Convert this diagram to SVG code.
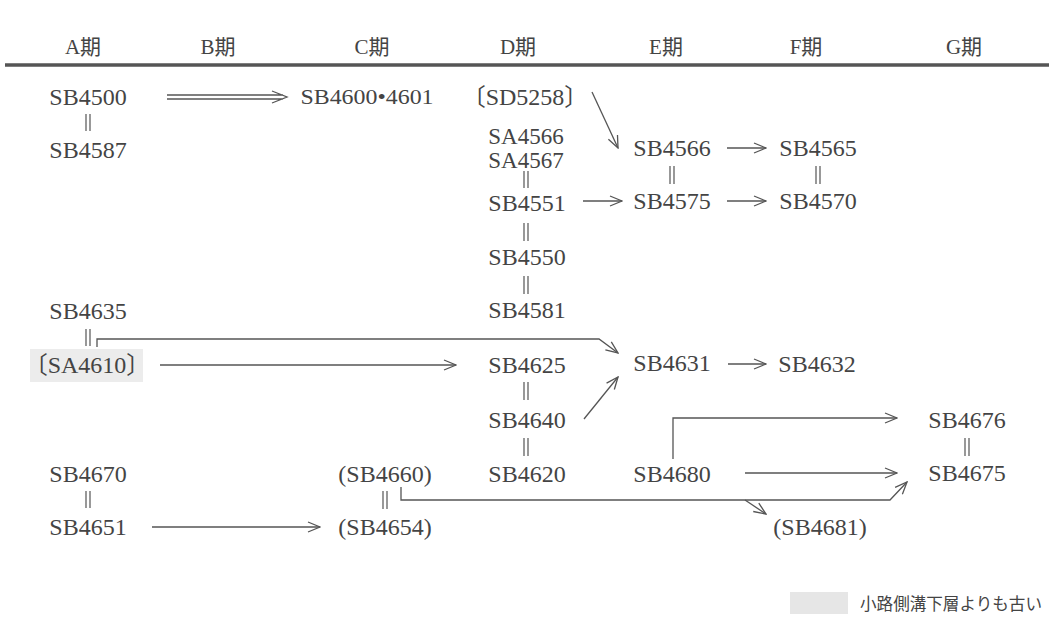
<svg xmlns="http://www.w3.org/2000/svg" width="1049" height="630" viewBox="0 0 1049 630">
<style>
.h{font-family:"Liberation Serif","Noto Sans CJK JP",serif;font-size:21px;fill:#444;text-anchor:middle}
.n{font-family:"Liberation Serif","Noto Sans CJK JP",serif;font-size:24px;fill:#444;text-anchor:middle}
.c{stroke:#555;stroke-width:1.3;fill:none}
.eq{stroke:#555;stroke-width:1.2;fill:none}
.lg{font-family:"Noto Sans CJK JP",sans-serif;font-size:17px;fill:#444}
</style>
<defs>
<marker id="ah" markerWidth="14" markerHeight="12" refX="13" refY="6" orient="auto" markerUnits="userSpaceOnUse">
<path d="M1,1 L13,6 L1,11" fill="none" stroke="#555" stroke-width="1.3"/>
</marker>
</defs>
<rect width="1049" height="630" fill="#fff"/>
<g id="header">
<text class="h" x="83" y="54">A期</text>
<text class="h" x="218" y="54">B期</text>
<text class="h" x="372" y="54">C期</text>
<text class="h" x="518" y="54">D期</text>
<text class="h" x="666" y="54">E期</text>
<text class="h" x="806" y="54">F期</text>
<text class="h" x="964" y="54">G期</text>
<line x1="5" y1="65" x2="1049" y2="65" stroke="#555" stroke-width="3.5"/>
</g>
<g id="n-SB4500"><text class="n" x="88" y="105">SB4500</text></g>
<g id="n-SB4587"><text class="n" x="88" y="158">SB4587</text></g>
<g id="n-SB4600"><text class="n" x="367" y="104" style="font-size:21px" textLength="133" lengthAdjust="spacingAndGlyphs">SB4600•4601</text></g>
<g id="n-SD5258"><text class="n" x="525" y="105">〔SD5258〕</text></g>
<g id="n-SA4566"><text class="n" x="526" y="144" style="font-size:23px">SA4566</text></g>
<g id="n-SA4567"><text class="n" x="526" y="168" style="font-size:23px">SA4567</text></g>
<g id="n-SB4551"><text class="n" x="527" y="211">SB4551</text></g>
<g id="n-SB4550"><text class="n" x="527" y="265">SB4550</text></g>
<g id="n-SB4581"><text class="n" x="527" y="318">SB4581</text></g>
<g id="n-SB4566"><text class="n" x="672" y="156">SB4566</text></g>
<g id="n-SB4575"><text class="n" x="672" y="209">SB4575</text></g>
<g id="n-SB4565"><text class="n" x="818" y="156">SB4565</text></g>
<g id="n-SB4570"><text class="n" x="818" y="209">SB4570</text></g>
<g id="n-SB4635"><text class="n" x="88" y="319">SB4635</text></g>
<g id="n-SA4610"><rect x="30" y="349" width="113" height="33" fill="#ececec"/><text class="n" x="87" y="373">〔SA4610〕</text></g>
<g id="n-SB4625"><text class="n" x="527" y="373">SB4625</text></g>
<g id="n-SB4640"><text class="n" x="527" y="428">SB4640</text></g>
<g id="n-SB4620"><text class="n" x="527" y="482">SB4620</text></g>
<g id="n-SB4631"><text class="n" x="672" y="371">SB4631</text></g>
<g id="n-SB4632"><text class="n" x="817" y="372">SB4632</text></g>
<g id="n-SB4680"><text class="n" x="672" y="482">SB4680</text></g>
<g id="n-SB4676"><text class="n" x="967" y="428">SB4676</text></g>
<g id="n-SB4675"><text class="n" x="967" y="481">SB4675</text></g>
<g id="n-SB4670"><text class="n" x="88" y="482">SB4670</text></g>
<g id="n-SB4651"><text class="n" x="88" y="535">SB4651</text></g>
<g id="n-SB4660"><text class="n" x="385" y="482">(SB4660)</text></g>
<g id="n-SB4654"><text class="n" x="385" y="535">(SB4654)</text></g>
<g id="n-SB4681"><text class="n" x="820" y="535">(SB4681)</text></g>
<g id="connectors">
<path class="eq" d="M86,114 V131 M90,114 V131"/>
<path class="eq" d="M524,171 V188 M528,171 V188"/>
<path class="eq" d="M524,223 V241 M528,223 V241"/>
<path class="eq" d="M524,276 V294 M528,276 V294"/>
<path class="eq" d="M670,166 V184 M674,166 V184"/>
<path class="eq" d="M816,166 V184 M820,166 V184"/>
<path class="eq" d="M86,329 V346 M90,329 V346"/>
<path class="eq" d="M524,382 V400 M528,382 V400"/>
<path class="eq" d="M524,438 V456 M528,438 V456"/>
<path class="eq" d="M965,438 V456 M969,438 V456"/>
<path class="eq" d="M86,491 V508 M90,491 V508"/>
<path class="eq" d="M383,491 V509 M387,491 V509"/>
<path class="c" d="M167,95 H283 M167,99 H283 M272,91 L287,97 L272,103"/>
<line class="c" x1="592" y1="92" x2="618" y2="148" marker-end="url(#ah)"/>
<line class="c" x1="583" y1="201" x2="622" y2="201" marker-end="url(#ah)"/>
<line class="c" x1="727" y1="148" x2="766" y2="148" marker-end="url(#ah)"/>
<line class="c" x1="727" y1="201" x2="766" y2="201" marker-end="url(#ah)"/>
<path class="c" d="M97,347 V339 H599 L618,353" marker-end="url(#ah)"/>
<line class="c" x1="160" y1="365" x2="456" y2="365" marker-end="url(#ah)"/>
<line class="c" x1="584" y1="419" x2="618" y2="377" marker-end="url(#ah)"/>
<line class="c" x1="728" y1="364" x2="766" y2="364" marker-end="url(#ah)"/>
<path class="c" d="M673,459 V418 H897" marker-end="url(#ah)"/>
<line class="c" x1="745" y1="473" x2="897" y2="473" marker-end="url(#ah)"/>
<line class="c" x1="152" y1="527" x2="320" y2="527" marker-end="url(#ah)"/>
<path class="c" d="M401,487 V500 H890 L907,482" marker-end="url(#ah)"/>
<path class="c" d="M745,500 L766,514" marker-end="url(#ah)"/>
</g>
<g id="legend">
<rect x="790" y="592" width="58" height="22" fill="#e6e6e6"/>
<text class="lg" x="860" y="610" textLength="182" lengthAdjust="spacingAndGlyphs">小路側溝下層よりも古い</text>
</g>
</svg>
